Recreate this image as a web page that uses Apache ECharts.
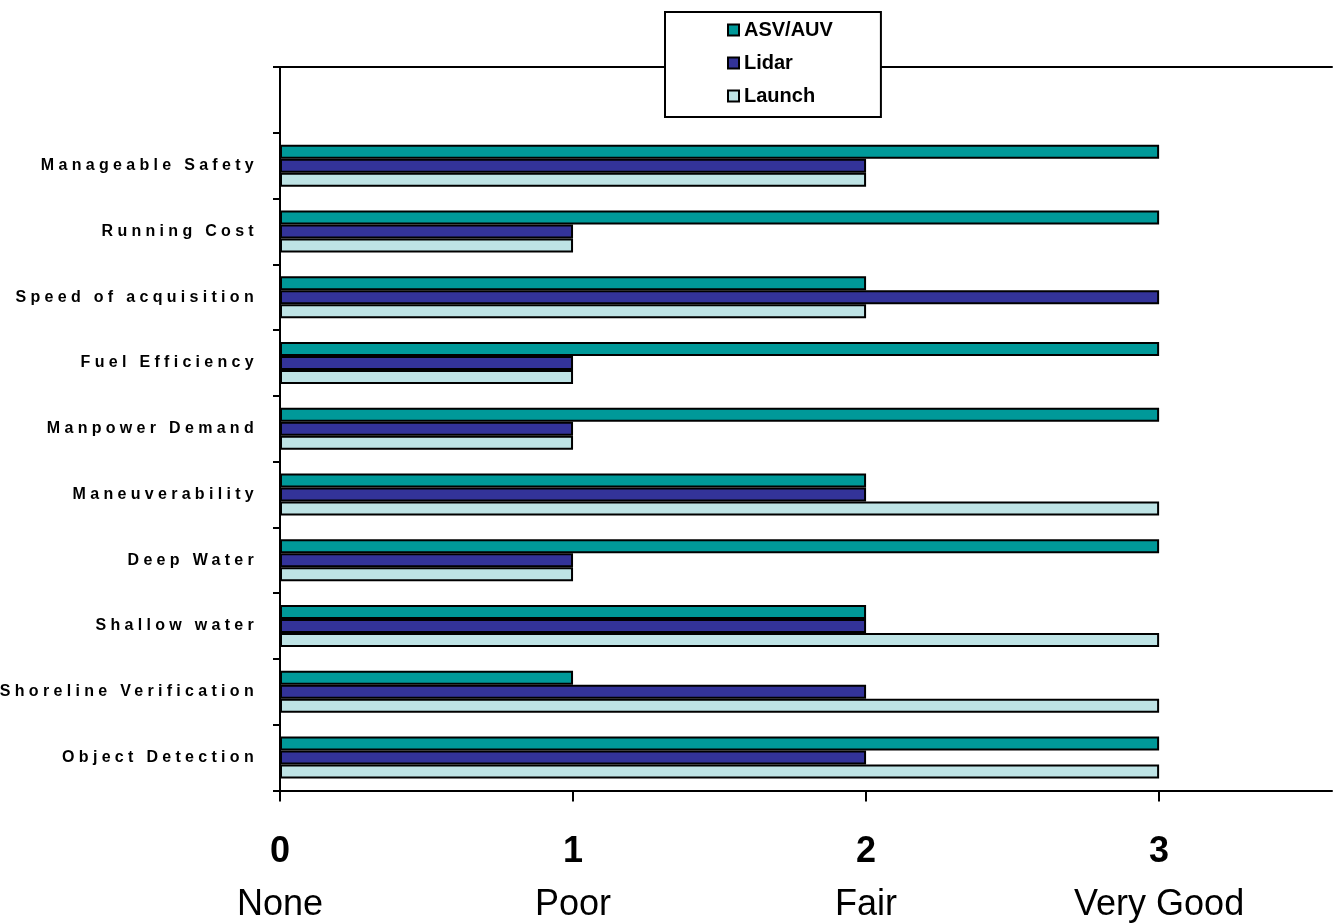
<!DOCTYPE html>
<html>
<head>
<meta charset="utf-8">
<script src="https://cdn.jsdelivr.net/npm/echarts@6/dist/echarts.min.js"></script>
<style>html,body{margin:0;padding:0;background:#fff;}#c{width:1338px;height:923px;}</style>
</head>
<body>
<div id="c"></div>
<script>
const categories = ['Object Detection','Shoreline Verification','Shallow water','Deep Water','Maneuverability','Manpower Demand','Fuel Efficiency','Speed of acquisition','Running Cost','Manageable Safety',''];
const asvAuv = [3,1,2,3,2,3,3,2,3,3,null];
const lidar = [2,2,2,1,2,1,1,3,1,2,null];
const launch = [3,3,3,1,3,1,1,2,1,2,null];
const tickValues = [0,1,2,3];
const tickNumbers = ['0','1','2','3'];
const tickWords = ['None','Poor','Fair','Very Good'];

// letter-spaced category labels (drawn by ECharts; spacing applied at canvas level)
const origFill = CanvasRenderingContext2D.prototype.fillText;
CanvasRenderingContext2D.prototype.fillText = function(t, x, y, w) {
  const f = String(this.font || '');
  this.letterSpacing = (/\b16px\b/.test(f)) ? '4.3px' : '0px';
  const r = (w === undefined) ? origFill.call(this, t, x, y) : origFill.call(this, t, x, y, w);
  this.letterSpacing = '0px';
  return r;
};

const chart = echarts.init(document.getElementById('c'), null, {renderer: 'canvas'});
const border = {borderColor: '#000', borderWidth: 2};
chart.setOption({
  animation: false,
  backgroundColor: '#fff',
  grid: {left: 280, right: 6, top: 67, bottom: 131, containLabel: false},
  legend: {
    orient: 'vertical', left: 665, top: 12,
    data: ['ASV/AUV','Lidar','Launch'], icon: 'rect',
    backgroundColor: '#fff', borderColor: '#000', borderWidth: 2,
    padding: [8, 48, 11, 62],
    itemWidth: 11, itemHeight: 11, itemGap: 13, selectedMode: false,
    textStyle: {fontFamily: 'Arial', fontWeight: 'bold', fontSize: 20, color: '#000', lineHeight: 20}
  },
  xAxis: [{
    type: 'value', min: 0, max: 3.59, position: 'bottom',
    splitLine: {show: false},
    axisLine: {show: true, lineStyle: {color: '#000', width: 2}},
    axisTick: {show: true, length: 11, customValues: tickValues, lineStyle: {color: '#000', width: 2}},
    axisLabel: {
      customValues: tickValues, margin: 35,
      formatter: function(v){ const i = tickValues.indexOf(v); return i < 0 ? '' : '{a|' + tickNumbers[i] + '}\n{b|' + tickWords[i] + '}'; },
      rich: {
        a: {fontFamily: 'Arial', fontWeight: 'bold', fontSize: 36, color: '#000', lineHeight: 53},
        b: {fontFamily: 'Arial', fontSize: 36, color: '#000', lineHeight: 53}
      }
    }
  }, {
    type: 'value', min: 0, max: 3.59, position: 'top',
    splitLine: {show: false},
    axisLine: {show: true, lineStyle: {color: '#000', width: 2}},
    axisTick: {show: false}, axisLabel: {show: false}
  }],
  yAxis: {
    type: 'category', data: categories,
    axisLine: {show: true, lineStyle: {color: '#000', width: 2}},
    axisTick: {show: true, length: 7, lineStyle: {color: '#000', width: 2}},
    axisLabel: {fontFamily: 'Arial', fontWeight: 'bold', fontSize: 16, color: '#000', margin: 22, padding: [5, 0, 0, 0]}
  },
  series: [
    {name: 'ASV/AUV', type: 'bar', data: asvAuv, barWidth: 14, barGap: '0%', itemStyle: Object.assign({color: '#009999'}, border)},
    {name: 'Lidar', type: 'bar', data: lidar, barWidth: 14, barGap: '0%', itemStyle: Object.assign({color: '#333399'}, border)},
    {name: 'Launch', type: 'bar', data: launch, barWidth: 14, barGap: '0%', itemStyle: Object.assign({color: '#bee3e5'}, border)}
  ]
});
</script>
</body>
</html>
